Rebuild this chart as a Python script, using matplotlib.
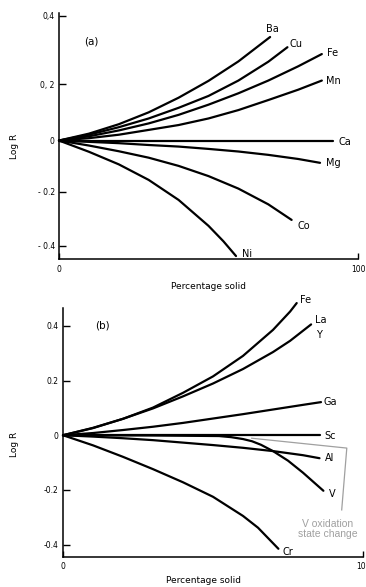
import matplotlib
matplotlib.use("Agg")
import matplotlib.pyplot as plt
import numpy as np

# ---- panel (a): log R vs percentage solid ----
ba_x = [0, 10, 20, 30, 40, 50, 60, 70.6]
ba_y = [0, 0.026, 0.061, 0.104, 0.155, 0.211, 0.272, 0.343]
cu_x = [0, 10, 20, 30, 40, 50, 60, 70, 76.4]
cu_y = [0, 0.022, 0.050, 0.082, 0.120, 0.161, 0.212, 0.271, 0.314]
fea_x = [0, 10, 20, 30, 40, 50, 60, 70, 80, 87.9]
fea_y = [0, 0.016, 0.038, 0.064, 0.095, 0.131, 0.170, 0.212, 0.257, 0.294]
mn_x = [0, 10, 20, 30, 40, 50, 60, 70, 80, 87.9]
mn_y = [0, 0.009, 0.022, 0.040, 0.058, 0.082, 0.112, 0.147, 0.182, 0.212]
ca_x = [0, 91.7]
ca_y = [0, 0]
mg_x = [0, 10, 20, 30, 40, 50, 60, 70, 80, 87.3]
mg_y = [0, -0.005, -0.010, -0.017, -0.023, -0.032, -0.042, -0.055, -0.071, -0.086]
co_x = [0, 10, 20, 30, 40, 50, 60, 70, 77.8]
co_y = [0, -0.019, -0.041, -0.066, -0.098, -0.138, -0.187, -0.248, -0.307]
ni_x = [0, 10, 20, 30, 40, 50, 55, 59.2]
ni_y = [0, -0.043, -0.092, -0.153, -0.231, -0.329, -0.385, -0.436]

# ---- panel (b) ----
feb_x = [0, 10, 20, 30, 40, 50, 60, 70, 75.7, 77.9]
feb_y = [0, 0.027, 0.060, 0.101, 0.155, 0.215, 0.290, 0.385, 0.452, 0.483]
la_x = [0, 10, 20, 30, 40, 50, 60, 70, 75.7, 82.7]
la_y = [0, 0.026, 0.060, 0.098, 0.142, 0.189, 0.242, 0.304, 0.345, 0.405]
ga_x = [0, 10, 20, 30, 40, 50, 60, 70, 80, 86]
ga_y = [0, 0.008, 0.019, 0.031, 0.045, 0.061, 0.077, 0.094, 0.111, 0.121]
sc_x = [0, 85.7]
sc_y = [0, 0]
al_x = [0, 10, 20, 30, 40, 50, 60, 70, 80, 85.5]
al_y = [0, -0.005, -0.011, -0.018, -0.027, -0.036, -0.046, -0.058, -0.073, -0.084]
v_x = [0, 30, 52, 56, 60, 63, 66, 70, 75, 80, 86.8]
v_y = [0, -0.001, -0.003, -0.007, -0.014, -0.022, -0.035, -0.058, -0.093, -0.137, -0.203]
cr_x = [0, 10, 20, 30, 40, 50, 60, 65, 71.8]
cr_y = [0, -0.037, -0.079, -0.124, -0.172, -0.225, -0.295, -0.338, -0.415]

# note on the V curve (gray bracket added on top of the original figure)
v_note_x = [62.9, 94.6, 92.9]
v_note_y = [-0.011, -0.047, -0.273]

# label offsets in pixels from the curve end: (name, dx, dy, ha)
curves_a = [
    (ba_x, ba_y, "Ba", 2, 8, "center"),
    (cu_x, cu_y, "Cu", 2, 3, "left"),
    (fea_x, fea_y, "Fe", 5, 1, "left"),
    (mn_x, mn_y, "Mn", 4, 0, "left"),
    (ca_x, ca_y, "Ca", 5, -1, "left"),
    (mg_x, mg_y, "Mg", 6, 0, "left"),
    (co_x, co_y, "Co", 6, -6, "left"),
    (ni_x, ni_y, "Ni", 6, 2, "left"),
]
curves_b = [
    (feb_x, feb_y, "Fe", 3, 3, "left"),
    (la_x, la_y, "La", 4, 4, "left"),
    (ga_x, ga_y, "Ga", 3, 0, "left"),
    (sc_x, sc_y, "Sc", 4, -1, "left"),
    (al_x, al_y, "Al", 5, 0, "left"),
    (v_x, v_y, "V", 6, -3, "left"),
    (cr_x, cr_y, "Cr", 4, -3, "left"),
]

# the scanned y axis of panel (a) is not evenly spaced:
# tick value -> pixel row in the scan, smoothed with a cubic
a_tick_vals = [-0.4, -0.2, 0.0, 0.2, 0.4]
a_tick_rows = [245.7, 191.7, 141.0, 84.0, 16.0]
a_coef = np.polyfit(a_tick_vals, [141.0 - r for r in a_tick_rows], 3)
a_grid = np.linspace(-1, 1, 4001)


def a_fwd(v):
    return np.polyval(a_coef, v)


def a_inv(s):
    return np.interp(s, a_fwd(a_grid), a_grid)


LW = 1.6
FS_LABEL = 7
FS_TICK = 5.5
FS_AXIS = 6.5

W, H = 366, 587
fig = plt.figure(figsize=(W / 100, H / 100), dpi=100)
ax_a = fig.add_axes([59 / W, 1 - 259.3 / H, 299 / W, 246.3 / H])
ax_b = fig.add_axes([63 / W, 1 - 556.7 / H, 300 / W, 248.7 / H])


def style_axes(ax, yticks, ylabels):
    for s in ("top", "right"):
        ax.spines[s].set_visible(False)
    for s in ("left", "bottom"):
        ax.spines[s].set_linewidth(1.1)
    ax.set_xlim(0, 100)
    ax.set_xticks([0, 100])
    ax.set_xticklabels(["0", "100"])
    ax.set_yticks(yticks)
    ax.set_yticklabels(ylabels)
    ax.tick_params(axis="both", direction="in", length=5, width=1.0,
                   labelsize=FS_TICK, pad=3)
    ax.tick_params(axis="x", length=4, pad=4)
    ax.set_xlabel("Percentage solid", fontsize=FS_AXIS, labelpad=6)
    ax.set_ylabel("Log R", fontsize=FS_AXIS)


def draw_curves(ax, curves):
    for xs, ys, name, dx, dy, ha in curves:
        ax.plot(xs, ys, color="black", lw=LW, solid_capstyle="round",
                solid_joinstyle="round", clip_on=False)
        ax.annotate(name, xy=(xs[-1], ys[-1]), xytext=(dx, dy),
                    textcoords="offset pixels", ha=ha, va="center",
                    fontsize=FS_LABEL, annotation_clip=False)


# panel (a)
ax_a.set_yscale("function", functions=(a_fwd, a_inv))
ax_a.set_ylim(-0.447, 0.4075)
style_axes(ax_a, [-0.4, -0.2, 0, 0.2, 0.4],
           ["- 0.4", "- 0.2", "0", "0, 2", "0,4"])
draw_curves(ax_a, curves_a)
ax_a.text((91 - 59) / 299, 1 - (42 - 13) / 246.3, "(a)",
          transform=ax_a.transAxes, ha="center", va="center",
          fontsize=FS_LABEL + 0.5)
ax_a.yaxis.set_label_coords(-(59 - 19) / 299, 0.46)

# panel (b)
ax_b.set_ylim(-0.444, 0.465)
style_axes(ax_b, [-0.4, -0.2, 0, 0.2, 0.4],
           ["-0.4", "-0.2", "0", "0.2", "0.4"])
draw_curves(ax_b, curves_b)
ax_b.annotate("Y", xy=(la_x[-1], la_y[-1]), xytext=(5, -11),
              textcoords="offset pixels", ha="left", va="center",
              fontsize=FS_LABEL, annotation_clip=False)
ax_b.text((102 - 63) / 300, 1 - (325 - 308) / 248.7, "(b)",
          transform=ax_b.transAxes, ha="center", va="center",
          fontsize=FS_LABEL + 0.5)
ax_b.yaxis.set_label_coords(-(63 - 19) / 300, 0.45)
ax_b.xaxis.set_label_coords(0.47, -0.076)

# gray bracket for the V oxidation state change
ax_b.plot(v_note_x, v_note_y, color="#a0a0a0", lw=0.9, clip_on=False)
ax_b.text(88.3, -0.343, "V oxidation\nstate change", color="#a0a0a0",
          ha="center", va="center", multialignment="center",
          fontsize=7.5, family="Liberation Sans", linespacing=1.1)

fig.savefig("out.png", dpi=100)
